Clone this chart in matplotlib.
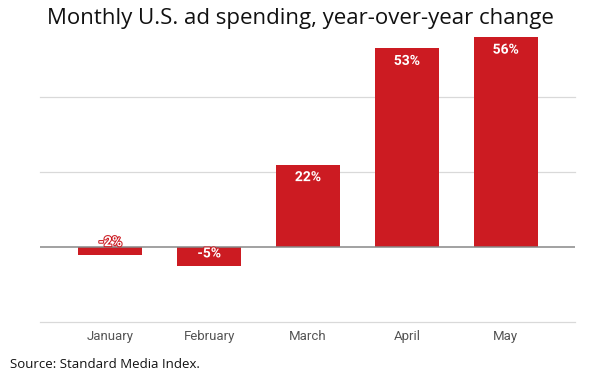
import matplotlib.pyplot as plt
import matplotlib.patheffects as pe

months = ["January", "February", "March", "April", "May"]
changes = [-2, -5, 22, 53, 56]
labels = ["-2%", "-5%", "22%", "53%", "56%"]
gridlines = [-20, 20, 40]

bar_color = "#cc1b22"

fig = plt.figure(figsize=(6, 3.75), dpi=100)
ax = fig.add_axes([0.067, 0.141, 0.891, 0.80])

x = range(len(months))
ax.bar(x, changes, width=0.65, color=bar_color, zorder=3)

for g in gridlines:
    ax.axhline(g, color="#d9d9d9", lw=0.9, zorder=1, clip_on=False)
ax.axhline(0, color="#888888", lw=1.1, zorder=4)

# labels sit ~12px inside the value end of each bar
for i, (v, lab) in enumerate(zip(changes, labels)):
    off = -9 if v >= 0 else 9
    ax.annotate(lab, (i, v), xytext=(0, off), textcoords="offset points",
                ha="center", va="center", color="white", fontsize=10,
                fontweight="bold", family="Roboto", zorder=5,
                path_effects=[pe.withStroke(linewidth=1.5, foreground=bar_color)])

ax.set_xlim(-0.71, 4.70)
ax.set_ylim(-20, 60)
ax.set_xticks(list(x))
ax.set_xticklabels(months, color="#555555", fontsize=9.5, family="Roboto")
ax.tick_params(axis="x", length=0, pad=6)
ax.set_yticks([])
for s in ax.spines.values():
    s.set_visible(False)

fig.text(0.5, 0.951, "Monthly U.S. ad spending, year-over-year change",
         ha="center", va="center", fontsize=16, family="Open Sans", color="#111111")
fig.text(0.017, 0.028, "Source: Standard Media Index.", ha="left", va="center",
         fontsize=9.5, family="Open Sans", color="#111111")

fig.savefig("out.png", dpi=100)
